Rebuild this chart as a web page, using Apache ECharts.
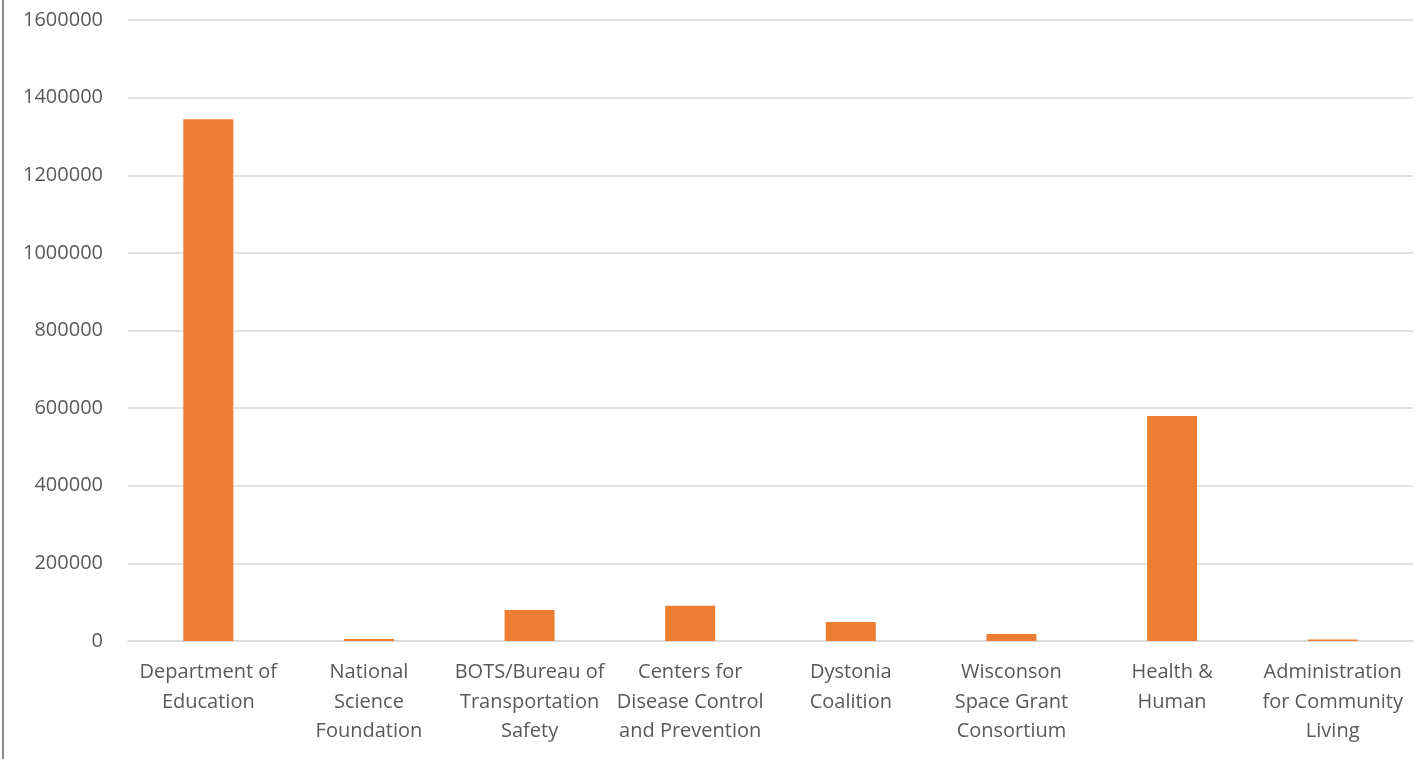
<!DOCTYPE html>
<html>
<head>
<meta charset="utf-8">
<script src="https://cdn.jsdelivr.net/npm/echarts@6/dist/echarts.min.js"></script>
<style>
  html, body { margin: 0; padding: 0; background: #fff; }
  #chart { width: 1424px; height: 759px; }
</style>
</head>
<body>
<div id="chart"></div>
<script>
const categories = [
  'Department of\nEducation',
  'National\nScience\nFoundation',
  'BOTS/Bureau of\nTransportation\nSafety',
  'Centers for\nDisease Control\nand Prevention',
  'Dystonia\nCoalition',
  'Wisconson\nSpace Grant\nConsortium',
  'Health &\nHuman',
  'Administration\nfor Community\nLiving'
];
const values = [1344000, 5000, 80000, 91000, 49000, 18000, 580000, 4000];
const yMin = 0;
const yMax = 1600000;
const yStep = 200000;

const chart = echarts.init(document.getElementById('chart'));
chart.setOption({
  animation: false,
  textStyle: { fontFamily: 'Open Sans' },
  grid: { left: 128, right: 11, top: 20, bottom: 118 },
  graphic: [
    {
      type: 'rect',
      shape: { x: 2, y: 0, width: 2, height: 759 },
      style: { fill: '#8c8c8c' }
    }
  ],
  xAxis: {
    type: 'category',
    data: categories,
    axisLine: { show: true, lineStyle: { color: '#d9d9d9', width: 1.5 } },
    axisTick: { show: false },
    axisLabel: {
      color: '#595959',
      fontSize: 20,
      lineHeight: 29.5,
      margin: 17,
      interval: 0
    }
  },
  yAxis: {
    type: 'value',
    min: yMin,
    max: yMax,
    interval: yStep,
    axisLine: { show: false },
    axisTick: { show: false },
    axisLabel: {
      color: '#595959',
      fontSize: 20,
      margin: 25,
      formatter: (v) => String(v)
    },
    splitLine: { lineStyle: { color: '#d9d9d9', width: 1.5 } }
  },
  series: [
    {
      type: 'bar',
      data: values,
      barWidth: 50,
      itemStyle: { color: '#ed7d31' }
    }
  ]
});
</script>
</body>
</html>
